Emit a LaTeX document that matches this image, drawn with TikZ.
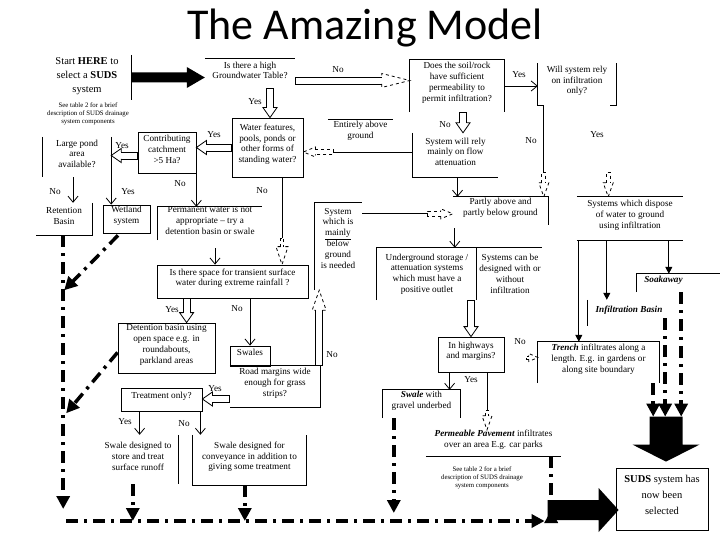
\documentclass[tikz,border=0pt]{standalone}
\usepackage{fontspec}
\setmainfont{Liberation Serif}
\newfontfamily\titlefont{Carlito}
\usetikzlibrary{arrows.meta,calc,fit}

\newcommand\body{\fontsize{9.2}{10.8}\selectfont}
\newcommand\smalltxt{\fontsize{6.8}{8}\selectfont}

% hollow block arrow: [head style]{start}{end}{dx}{dy}{shaft half}{head half}{head length}
\newcommand\hollow[8][]{%
 \draw[ln] ($(#3)+({-(#8)*(#4)-(#6)*(#5)},{-(#8)*(#5)+(#6)*(#4)})$) -- ($(#2)+({-(#6)*(#5)},{(#6)*(#4)})$) -- ($(#2)+({(#6)*(#5)},{-(#6)*(#4)})$) -- ($(#3)+({-(#8)*(#4)+(#6)*(#5)},{-(#8)*(#5)-(#6)*(#4)})$);
 \draw[ln,#1] ($(#3)+({-(#8)*(#4)-(#6)*(#5)},{-(#8)*(#5)+(#6)*(#4)})$) -- ($(#3)+({-(#8)*(#4)-(#7)*(#5)},{-(#8)*(#5)+(#7)*(#4)})$) -- (#3) -- ($(#3)+({-(#8)*(#4)+(#7)*(#5)},{-(#8)*(#5)-(#7)*(#4)})$) -- ($(#3)+({-(#8)*(#4)+(#6)*(#5)},{-(#8)*(#5)-(#6)*(#4)})$);
}
% solid block arrow: {start}{end}{dx}{dy}{shaft half}{head half}{head length}
\newcommand\solidarrow[7]{%
 \fill ($(#1)+({-(#5)*(#4)},{(#5)*(#3)})$) -- ($(#2)+({-(#7)*(#3)-(#5)*(#4)},{-(#7)*(#4)+(#5)*(#3)})$) -- ($(#2)+({-(#7)*(#3)-(#6)*(#4)},{-(#7)*(#4)+(#6)*(#3)})$) -- (#2) -- ($(#2)+({-(#7)*(#3)+(#6)*(#4)},{-(#7)*(#4)-(#6)*(#3)})$) -- ($(#2)+({-(#7)*(#3)+(#5)*(#4)},{-(#7)*(#4)-(#5)*(#3)})$) -- ($(#1)+({(#5)*(#4)},{-(#5)*(#3)})$) -- cycle;
}

\tikzset{
 bx/.style={inner sep=0pt, align=center, font=\body},
 fb/.style={bx, draw, line width=0.8pt},
 ln/.style={line width=0.8pt},
 va/.style={ln, -{Straight Barb[length=6pt,width=10pt]}},
 ta/.style={ln, -{Triangle[length=7pt,width=7pt]}},
 dd/.style={line width=3.5pt, dash pattern=on 12pt off 6pt on 3pt off 6pt, -{Triangle[length=13pt,width=13pt]}},
 lbl/.style={font=\body, inner sep=0pt},
}

\begin{document}
\begin{tikzpicture}[x=1pt,y=-1pt]
\fill[white] (0,0) rectangle (720,540);
\useasboundingbox (0,0) rectangle (720,540);

\node[anchor=base, font=\titlefont\fontsize{44}{50}\selectfont, inner sep=0pt] (title) at (365,40) {The Amazing Model};

% ---------- top row ----------
\node[bx, fit={(69,55)(131,100)}] (start) {};
\node[bx, font=\fontsize{10.5}{14}\selectfont] (starttxt) at (87,76) {Start \textbf{HERE} to\\select a \textbf{SUDS}\\system};
\draw[ln] (start.north east) -- (start.south east);
\node[bx, font=\smalltxt] (see1) at (88,114) {See table 2 for a brief\\description of SUDS drainage\\system components};

\node[bx, fit={(205,59)(295,88)}] (gw) {Is there a high\\Groundwater Table?};
\draw[ln] (gw.north west) -- (gw.north east);
\coordinate (a1) at (start.east);
\coordinate (a2) at (gw.west |- start.east);
\solidarrow{a1}{a2}{1}{0}{5}{10.5}{18}

\node[bx, fit={(410,60)(504,112)}] (soil) {Does the soil/rock\\have sufficient\\permeability to\\permit infiltration?};
\draw[ln] (soil.south west) -- (soil.north west) -- (soil.north east) -- (soil.south east);
\coordinate (g1) at ($(gw.east)+(0,7)$);
\coordinate (g2) at (soil.west |- g1);
\hollow[dashed]{g1}{g2}{1}{0}{3.5}{7}{28}
\node[lbl] at (338,70) {No};

\node[bx, fit={(538,63)(616,105)}] (will) {Will system rely\\on infiltration\\only?};
\draw[ln] ($(will.south west)+(6,0)$) -- (will.south west) -- (will.north west);
\draw[ln] ($(will.south east)+(-6,0)$) -- (will.south east) -- (will.north east);
\draw[va] (soil.east) -- (will.west |- soil.east);
\node[lbl] at (519,75) {Yes};

% ---------- second row ----------
\node[bx, fit={(413,133)(498,177)}] (sysflow) {System will rely\\mainly on flow\\attenuation};
\draw[ln] (sysflow.north west) -- (sysflow.south west) -- (sysflow.south east);
\coordinate (s1) at ($(soil.south)+(6,0)$);
\coordinate (s2) at (s1 |- sysflow.north);
\hollow{s1}{s2}{0}{1}{3.5}{7}{10}
\node[lbl] at (445,125) {No};

\node[fb, fit={(232,118)(303,177)}] (water) {Water features,\\pools, ponds or\\other forms of\\standing water?};
\coordinate (y1) at ($(gw.south)+(20,0)$);
\coordinate (y2) at (y1 |- water.north);
\hollow{y1}{y2}{0}{1}{3.5}{7}{10}
\node[lbl] at (255,102) {Yes};

\node[bx, fit={(328,120)(393,148)}] (above) {Entirely above\\ground};
\draw[ln] (above.north west) -- (above.north east);
\coordinate (f1) at ($(sysflow.west)+(0,-3)$);
\coordinate (f3) at (water.east |- f1);
\coordinate (f2) at ($(f3)+(30,0)$);
\draw[ln] (f1) -- (f2);
\begin{scope}[dashed]\hollow{f2}{f3}{-1}{0}{2.5}{5}{12}\end{scope}

\node[fb, fit={(138,132)(196,173)}] (contrib) {Contributing\\catchment\\>5 Ha?};
\coordinate (c1) at (water.west);
\coordinate (c2) at (contrib.east |- c1);
\hollow{c1}{c2}{-1}{0}{3.5}{7}{10}
\node[lbl] at (214,135) {Yes};

\node[bx, fit={(43,137)(111,177)}] (pond) {Large pond\\area\\available?};
\draw[ln] (pond.north west) -- (pond.south west);
\draw[ln] (pond.north east) -- (pond.south east);
\coordinate (p1) at ($(contrib.west)+(0,3)$);
\coordinate (p2) at (pond.east |- p1);
\hollow{p1}{p2}{-1}{0}{3.5}{7}{10}
\node[lbl] at (122,146) {Yes};

% ---------- third row ----------
\node[bx, fit={(36,203)(92,235)}] (retention) {Retention\\Basin};
\draw[ln] (retention.north east) -- (retention.south east) -- (retention.south west);
\node[fb, fit={(103,205)(150,233)}] (wetland) {Wetland\\system};
\coordinate (pr) at ($(pond.south)+(-4,0)$);
\draw[va] (pr) -- (pr |- retention.north);
\node[lbl] at (55,192) {No};
\draw[va] (pond.south east) -- (pond.south east |- wetland.north);
\node[lbl] at (128,192) {Yes};

\node[bx, fit={(158,207)(262,240)}] (perm) {Permanent water is not\\appropriate -- try a\\detention basin or swale};
\draw[ln] (perm.south west) -- (perm.north west) -- (perm.north east);
\draw[va] (contrib.south east) -- (contrib.south east |- perm.north);
\node[lbl] at (180,184) {No};

\node[fb, fit={(157,265)(308,298)}] (space) {Is there space for transient surface\\water during extreme rainfall ?};
\coordinate (q1) at ($(perm.south)+(5,8)$);
\draw[va] (q1) -- (q1 |- space.north);
\coordinate (r1) at ($(water.south)+(14.5,0)$);
\coordinate (r2) at ($(r1)+(0,61)$);
\coordinate (r3) at (r1 |- space.north);
\draw[ln] (r1) -- (r2);
\begin{scope}[dashed]\hollow{r2}{r3}{0}{1}{1.5}{6}{18}\end{scope}
\node[lbl] at (262,191) {No};

% ---------- below ground / partly ----------
\node[bx, fit={(315,203)(362,290)}] (below) {};
\node[bx] (belowtxt) at (338,238) {System\\which is\\\underline{mainly}\\below\\ground\\is needed};
\draw[ln] (below.south west) -- (below.north west) -- (below.north east);

\node[bx, fit={(453,197)(548,225)}] (partly) {Partly above and\\partly below ground};
\draw[ln] (partly.north west) -- (partly.north east) -- (partly.south east);
\coordinate (e1) at ($(below.north east)+(0,11)$);
\coordinate (e2) at (partly.west |- e1);
\coordinate (e3) at ($(e2)+(-25,0)$);
\draw[ln] (e1) -- (e3);
\begin{scope}[dashed]\hollow{e3}{e2}{1}{0}{2.5}{5}{12}\end{scope}

\coordinate (t1) at ($(sysflow.south)+(2,0)$);
\draw[va] (t1) -- (t1 |- partly.north);

\coordinate (w1) at ($(will.south west)+(6,0)$);
\coordinate (w2) at ($(w1)+(0,67)$);
\coordinate (w4) at (w1 |- partly.north);
\draw[ln] (w1) -- (w2);
\begin{scope}[dashed]\hollow{w2}{w4}{0}{1}{2}{5}{14}\end{scope}
\node[lbl] at (531,141) {No};

\node[bx, fit={(577,197)(683,240)}] (systems) {Systems which dispose\\of water to ground\\using infiltration};
\draw[ln] (systems.north west) -- (systems.north east);
\draw[ln] (systems.south west) -- (systems.south east);
\coordinate (w3) at ($(will.south east)+(-8,67)$);
\coordinate (w5) at (w3 |- systems.north);
\begin{scope}[dashed]\hollow{w3}{w5}{0}{1}{2}{5}{14}\end{scope}
\node[lbl] at (597,135) {Yes};

\node[bx, fit={(377,248)(542,300)}] (underground) {};
\draw[ln] (underground.south west) -- (underground.north west) -- (underground.north east);
\draw[ln] ($(underground.north west)+(100,0)$) -- ($(underground.south west)+(100,0)$);
\node[bx] (ug1) at (427,274) {Underground storage /\\attenuation systems\\which must have a\\positive outlet};
\node[bx] (ug2) at (510,274) {Systems can be\\designed with or\\without\\infiltration};
\coordinate (u1) at ($(partly.south west)+(2,3)$);
\draw[va] (u1) -- (u1 |- underground.north);

% ---------- space branches ----------
\node[fb, fit={(118,323)(215,373)}] (detention) {Detention basin using\\open space e.g. in\\roundabouts,\\parkland areas};
\coordinate (d1) at ($(space.south west)+(30,0)$);
\coordinate (d2) at (d1 |- detention.north);
\hollow{d1}{d2}{0}{1}{3.5}{7}{10}
\node[lbl] at (172,310) {Yes};

\node[fb, fit={(230,346)(270,366)}] (swales) {Swales};
\draw[va] (swales.north |- space.south) -- (swales.north);
\node[lbl] at (237,309) {No};

\node[bx, fit={(230,366)(320,407)}] (road) {Road margins wide\\enough for grass\\strips?};
\draw[ln] (road.north west) -- (road.north east) -- (road.south east) -- (road.south west);
\coordinate (b1) at ($(road.north east)+(-1,0)$);
\coordinate (b2) at (b1 |- below.south);
\hollow[dashed]{b1}{b2}{0}{-1}{3.5}{7}{20}
\node[lbl] at (332,355) {No};

\node[fb, fit={(121,388)(202,411)}] (treat) {Treatment only?};
\coordinate (o1) at ($(road.west)+(0,12.5)$);
\coordinate (o2) at (treat.east |- o1);
\hollow{o1}{o2}{-1}{0}{3.5}{7}{10}
\node[lbl] at (215,389) {Yes};

\node[bx, fit={(98,435)(178,484)}] (swalestore) {Swale designed to\\store and treat\\surface runoff};
\draw[ln] (swalestore.north east) -- (swalestore.south east);
\node[bx, fit={(193,435)(306,485)}] (convey) {Swale designed for\\conveyance in addition to\\giving some treatment};
\draw[ln] (convey.north west) -- (convey.south west) -- (convey.south east) -- (convey.north east);
\coordinate (z1) at ($(treat.south west)+(19,0)$);
\draw[va] (z1) -- (z1 |- swalestore.north);
\node[lbl] at (125,422) {Yes};
\coordinate (z2) at ($(treat.south east)+(-2,0)$);
\draw[va] (z2) -- (z2 |- convey.north);
\node[lbl] at (184,424) {No};

% ---------- highways ----------
\node[fb, fit={(438,337)(504,372)}] (highways) {In highways\\and margins?};
\coordinate (h1) at (highways.north |- underground.south);
\hollow{h1}{highways.north}{0}{1}{3.5}{7}{10}

\node[bx, fit={(383,390)(460,418)}] (swalegravel) {\textbf{\textit{Swale}} with\\gravel underbed};
\draw[ln] (swalegravel.south west) -- (swalegravel.north west) -- (swalegravel.north east) -- (swalegravel.south east);
\coordinate (k1) at ($(highways.south west)+(12,0)$);
\draw[va] (k1) -- (k1 |- swalegravel.north);
\node[lbl] at (471,380) {Yes};

\node[bx, fit={(426,430)(561,456)}] (permpave) {\textbf{\textit{Permeable Pavement}} infiltrates\\over an area E.g. car parks};
\draw[ln] (permpave.south west) -- (permpave.south east);
\coordinate (m1) at ($(highways.south)+(16,0)$);
\coordinate (m2) at ($(m1)+(0,38)$);
\coordinate (m3) at (m1 |- permpave.north);
\draw[ln] (m1) -- (m2);
\begin{scope}[dashed]\hollow{m2}{m3}{0}{1}{1.5}{5}{14}\end{scope}

\node[bx, fit={(538,342)(659,383)}] (trench) {\textbf{\textit{Trench}} infiltrates along a\\length. E.g. in gardens or\\along site boundary};
\draw[ln] (trench.south west) -- (trench.north west) -- (trench.north east) -- (trench.south east);
\coordinate (n1) at ($(highways.east)+(22,3)$);
\coordinate (n2) at (trench.west |- n1);
\begin{scope}[dashed]\hollow{n1}{n2}{1}{0}{1.5}{4}{9}\end{scope}
\node[lbl] at (520,342) {No};

\node[bx, font=\smalltxt] (see2) at (482,478) {See table 2 for a brief\\description of SUDS drainage\\system components};

% ---------- infiltration column ----------
\node[bx, fit={(637,274)(690,292)}] (soak) {\textbf{\textit{Soakaway}}};
\draw[ln] (soak.south west) -- (soak.north west) -- ($(soak.north west)+(83,0)$);
\node[bx, fit={(588,300)(670,326)}] (infil) {\textbf{\textit{Infiltration Basin}}};
\draw[ln] (infil.north west) -- (infil.south west);
\coordinate (v1) at ($(systems.south west)+(2,0)$);
\draw[ta] (v1) -- (v1 |- trench.north);
\coordinate (v2) at ($(systems.south west)+(30,0)$);
\draw[ta] (v2) -- (v2 |- infil.north);
\coordinate (v3) at ($(systems.south west)+(92,0)$);
\draw[ta] (v3) -- (v3 |- soak.north);

\node[fb, fit={(616,468)(708,530)}, font=\fontsize{10.5}{16}\selectfont] (suds) {\textbf{SUDS} system has\\now been\\selected};
\coordinate (bd2) at ($(suds.north)+(4,-6)$);
\coordinate (bd1) at ($(bd2)+(0,-45)$);
\solidarrow{bd1}{bd2}{0}{1}{16.5}{33.5}{17}
\coordinate (x1) at ($(trench.south east)+(-6,0)$);
\draw[dd] (x1) -- (x1 |- bd1);
\coordinate (x2) at ($(infil.east)+(-5,5)$);
\draw[dd] (x2) -- (x2 |- bd1);
\coordinate (x3) at ($(soak.south east)+(-9,0)$);
\draw[dd] (x3) -- (x3 |- bd1);

\coordinate (br2) at ($(suds.west)+(3,11)$);
\coordinate (br1) at ($(br2)+(-71,0)$);
\solidarrow{br1}{br2}{1}{0}{10}{22}{20}
\coordinate (x4) at ($(permpave.south east)+(-10,0)$);
\draw[dd] (x4) -- (x4 |- br1) ++(0,0);

% ---------- dash-dot collector ----------
\coordinate (L1) at ($(retention.south east)+(-29,0)$);
\coordinate (bl) at ($(L1 |- br1)+(3,11)$);
\draw[dd] (L1) -- ($(L1 |- bl)+(0,-12)$);
\draw[dd] (bl) -- ($(br1)+(-3,11)$);
\draw[dd] ($(wetland.south)+(-8.5,2)$) -- ($(L1)+(1,55)$);
\draw[dd] ($(detention.south west)+(0,-21)$) -- ($(L1)+(3,178)$);
\coordinate (z3) at ($(swalestore.south west)+(35,0)$);
\draw[dd] (z3) -- (z3 |- bl);
\coordinate (z4) at ($(convey.south west)+(52,0)$);
\draw[dd] (z4) -- (z4 |- bl);
\coordinate (z5) at ($(swalegravel.south west)+(11,0)$);
\draw[dd] (z5) -- ($(z5 |- bl)+(0,-8)$);
\end{tikzpicture}
\end{document}
